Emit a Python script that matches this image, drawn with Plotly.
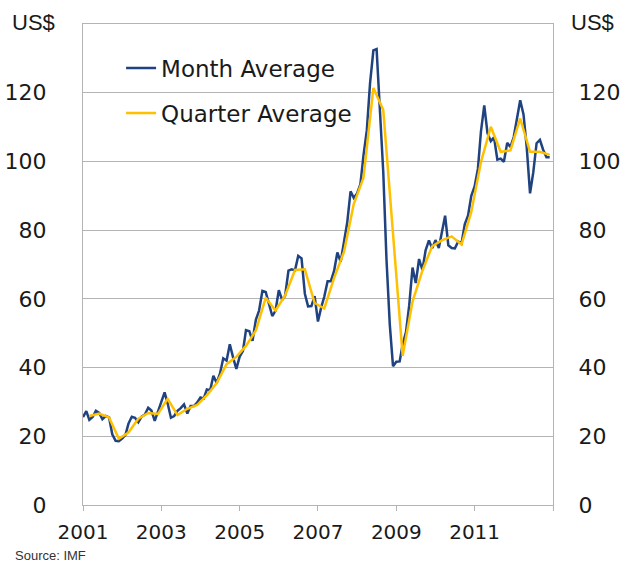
import pandas as pd
import plotly.graph_objects as go

# Monthly average oil price (US$), Jan 2001 - Dec 2012
month_avg = [
    25.6, 27.3, 24.8, 25.6, 27.4, 26.8, 25.0, 25.9, 25.5, 20.6, 18.7, 18.6,   # 2001
    19.3, 20.4, 23.7, 25.7, 25.4, 24.1, 25.7, 26.3, 28.3, 27.5, 24.5, 27.4,   # 2002
    30.3, 32.8, 29.6, 25.4, 25.9, 27.4, 28.2, 29.3, 26.6, 28.8, 28.8, 29.8,   # 2003
    31.3, 31.0, 33.6, 33.4, 37.6, 35.5, 38.2, 42.7, 42.0, 46.8, 42.9, 39.6,   # 2004
    43.2, 44.9, 50.9, 50.6, 47.8, 53.9, 56.6, 62.3, 62.0, 58.3, 55.0, 56.5,   # 2005
    62.5, 59.7, 60.9, 68.2, 68.6, 68.3, 72.5, 71.8, 61.5, 57.8, 57.9, 60.8,   # 2006
    53.4, 57.6, 60.6, 65.1, 65.1, 68.2, 73.5, 70.8, 76.9, 82.2, 91.3, 89.4,   # 2007
    90.7, 93.4, 101.8, 109.1, 122.8, 132.3, 132.7, 113.2, 97.0, 71.6, 52.5, 40.4,  # 2008
    41.7, 41.8, 46.7, 50.3, 58.1, 69.1, 64.6, 71.6, 68.4, 74.1, 77.0, 74.7,   # 2009
    77.1, 74.8, 79.0, 84.2, 75.6, 74.8, 74.7, 76.7, 76.1, 81.7, 84.3, 90.0,   # 2010
    92.7, 97.9, 108.7, 116.3, 108.2, 105.9, 107.0, 100.5, 100.8, 99.9, 105.4, 104.2,  # 2011
    107.1, 112.7, 117.8, 113.7, 104.1, 90.7, 96.8, 105.3, 106.3, 103.4, 101.2, 101.2,  # 2012
]

# Quarterly average oil price (US$), Q1 2001 - Q4 2012 (plotted at last month of quarter)
quarter_avg = [
    25.9, 26.6, 25.5, 19.3,
    21.1, 25.1, 26.8, 26.5,
    30.9, 26.2, 28.0, 29.1,
    32.0, 35.5, 41.0, 43.1,
    46.3, 50.8, 60.3, 56.6,
    61.0, 68.4, 68.6, 58.8,
    57.2, 66.1, 73.7, 87.6,
    95.3, 121.4, 115.0, 80.0,
    43.4, 59.2, 68.2, 75.3,
    77.0, 78.2, 75.8, 85.3,
    99.8, 110.1, 102.8, 103.2,
    112.5, 102.8, 102.8, 101.9,
]

months = pd.date_range("2001-01-01", periods=len(month_avg), freq="MS")
quarters = pd.date_range("2001-03-01", periods=len(quarter_avg), freq="3MS")

y_ticks = [0, 20, 40, 60, 80, 100, 120]
x_tick_dates = ["2001-01-01", "2003-01-01", "2005-01-01", "2007-01-01",
                "2009-01-01", "2011-01-01", "2013-01-01"]
x_tick_text = ["2001", "2003", "2005", "2007", "2009", "2011", ""]

BLUE = "#1F4280"
YELLOW = "#FFC000"
GRID = "#B4B4B4"
TXT = "#1a1a1a"
FONT = "DejaVu Sans"

fig = go.Figure()
fig.add_trace(go.Scatter(x=months, y=month_avg, mode="lines", name="Month Average",
                         line=dict(color=BLUE, width=2.5), legendgroup="m"))
fig.add_trace(go.Scatter(x=quarters, y=quarter_avg, mode="lines", name="Quarter Average",
                         line=dict(color=YELLOW, width=2.5), legendgroup="q", yaxis="y2"))

W, H = 623, 562
pl, pr, pt, pb = 83, 70, 24, 57
pw, ph = W - pl - pr, H - pt - pb

fig.update_layout(
    width=W, height=H,
    margin=dict(l=pl, r=pr, t=pt, b=pb, autoexpand=False),
    paper_bgcolor="white", plot_bgcolor="white",
    font=dict(family=FONT, size=22, color=TXT),
    showlegend=True,
    legend=dict(x=0.081, y=0.953, xanchor="left", yanchor="top",
                bgcolor="rgba(0,0,0,0)", font=dict(family=FONT, size=23, color=TXT),
                itemwidth=30, tracegroupgap=12, traceorder="grouped"),
    xaxis=dict(type="date", range=["2001-01-01", "2013-01-01"],
               tickvals=x_tick_dates, ticktext=x_tick_text,
               ticks="outside", ticklen=5, tickcolor=GRID, ticklabelstandoff=4,
               showline=True, linecolor=GRID, linewidth=1, mirror=True,
               showgrid=False, zeroline=False, automargin=False,
               tickfont=dict(family=FONT, size=20, color=TXT)),
    yaxis=dict(range=[0, 140], tickvals=y_ticks,
               showgrid=True, gridcolor=GRID, gridwidth=1,
               showline=True, linecolor=GRID, linewidth=1, mirror=True,
               zeroline=False, ticks="outside", ticklen=31,
               tickcolor="rgba(0,0,0,0)", automargin=False,
               tickfont=dict(family=FONT, size=22, color=TXT)),
    yaxis2=dict(range=[0, 140], tickvals=y_ticks, overlaying="y", side="right",
                showgrid=False, zeroline=False, showline=False,
                ticks="outside", ticklen=20, tickcolor="rgba(0,0,0,0)",
                automargin=False,
                tickfont=dict(family=FONT, size=22, color=TXT)),
)

def px_to_paper(xp, yp):
    return (xp - pl) / pw, (H - pb - yp) / ph

lx, ly = px_to_paper(33, 22)
rx, ry = px_to_paper(592, 22)
sx, sy = px_to_paper(13, 546)
fig.add_annotation(text="US$", x=lx, y=ly, xref="paper", yref="paper", showarrow=False,
                   xanchor="center", yanchor="middle",
                   font=dict(family="Liberation Sans", size=22, color=TXT))
fig.add_annotation(text="US$", x=rx, y=ry, xref="paper", yref="paper", showarrow=False,
                   xanchor="center", yanchor="middle",
                   font=dict(family="Liberation Sans", size=22, color=TXT))
fig.add_annotation(text="Source: IMF", x=sx, y=sy, xref="paper", yref="paper", showarrow=False,
                   xanchor="left", yanchor="top",
                   font=dict(family="Liberation Sans", size=13, color="#333333"))

fig.write_html("out.html", config={"displayModeBar": False},
               post_script="document.body.style.margin='0';document.body.style.overflow='hidden';")
